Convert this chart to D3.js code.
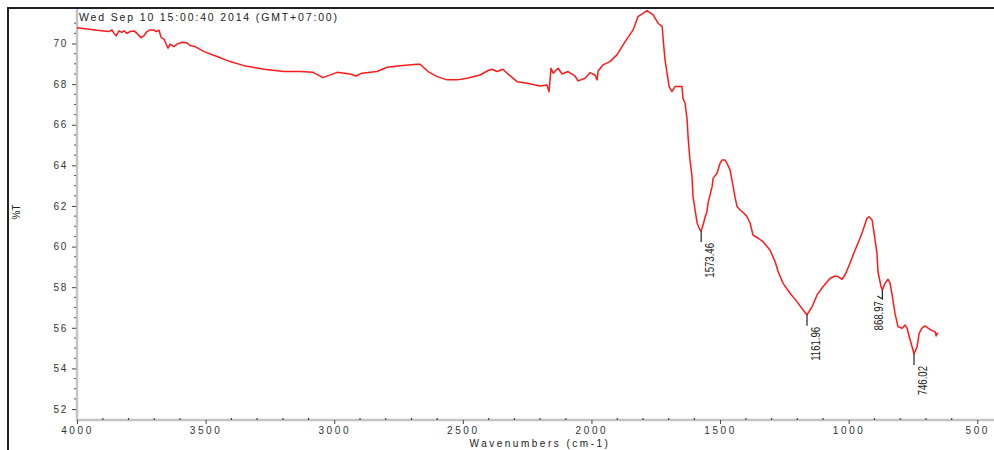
<!DOCTYPE html>
<html><head><meta charset="utf-8">
<script src="https://cdn.jsdelivr.net/npm/d3@7"></script>
<style>
html,body{margin:0;padding:0;background:#fff;}
svg{display:block;font-family:Arial,"Liberation Sans",sans-serif;}
</style></head>
<body><svg id="c" width="994" height="450"></svg>
<script>
// ---- data ----
const wavenumbers = [4000,3961,3922,3895,3876,3864,3856,3848,3837,3825,3817,3806,3794,3778,3767,3751,3740,3728,3716,3701,3693,3681,3673,3662,3646,3638,3623,3611,3592,3572,3561,3541,3506,3456,3405,3351,3273,3195,3133,3082,3044,2989,2939,2915,2892,2834,2795,2744,2678,2666,2635,2600,2561,2523,2484,2433,2402,2387,2367,2344,2324,2289,2250,2200,2173,2165,2157,2149,2130,2114,2091,2064,2052,2025,2005,1986,1978,1974,1955,1928,1901,1869,1838,1819,1784,1760,1741,1725,1722,1714,1706,1698,1687,1683,1675,1648,1644,1636,1628,1624,1617,1609,1605,1597,1589,1578,1574,1566,1558,1551,1547,1531,1527,1512,1500,1492,1481,1473,1461,1449,1442,1434,1422,1407,1395,1383,1372,1352,1333,1306,1286,1274,1255,1228,1201,1177,1162,1142,1123,1100,1072,1053,1041,1026,1014,995,975,956,944,929,921,909,901,890,886,874,869,859,847,839,831,820,808,792,781,773,761,750,746,734,726,715,703,691,676,664,660,656,652];
const transmittance = [70.78,70.72,70.65,70.62,70.59,70.67,70.50,70.38,70.62,70.55,70.63,70.50,70.59,70.62,70.50,70.29,70.38,70.59,70.67,70.67,70.59,70.65,70.29,70.22,69.77,69.97,69.85,69.97,70.06,70.03,69.90,69.85,69.60,69.36,69.11,68.91,68.73,68.62,68.62,68.58,68.32,68.58,68.50,68.40,68.54,68.62,68.83,68.91,68.98,68.98,68.62,68.37,68.21,68.21,68.29,68.45,68.67,68.73,68.62,68.73,68.49,68.12,68.04,67.91,67.96,67.63,68.78,68.54,68.78,68.50,68.62,68.40,68.16,68.29,68.57,68.45,68.21,68.65,68.95,69.11,69.44,70.09,70.67,71.33,71.62,71.41,71.00,70.83,70.34,69.19,68.54,67.88,67.63,67.72,67.88,67.88,67.30,67.06,66.24,65.33,64.27,63.44,62.46,61.80,61.15,60.82,60.77,61.06,61.47,61.72,62.13,62.95,63.36,63.61,64.10,64.27,64.27,64.10,63.77,62.95,62.46,61.97,61.80,61.64,61.47,61.15,60.57,60.41,60.24,59.83,59.26,58.76,58.19,57.70,57.29,56.88,56.64,57.04,57.62,58.02,58.44,58.55,58.52,58.39,58.60,59.18,59.83,60.41,60.82,61.39,61.47,61.31,60.65,59.67,58.76,58.02,57.86,58.19,58.39,58.19,57.62,56.71,56.05,55.98,56.14,55.98,55.40,54.91,54.71,55.07,55.73,55.98,56.09,55.98,55.86,55.81,55.60,55.73,55.70];
const peakWavenumbers = [1573.46, 1161.96, 868.97, 746.02];
const peakValues = [60.77, 56.64, 57.86, 54.71];
const peakLabels = ["1573.46", "1161.96", "868.97", "746.02"];
const xTicks = [4000,3500,3000,2500,2000,1500,1000,500];
const yTicks = [52,54,56,58,60,62,64,66,68,70];
const titleText = "Wed Sep 10 15:00:40 2014 (GMT+07:00)";
const xLabel = "Wavenumbers (cm-1)";
const yLabel = "%T";

// ---- chart ----
const svg = d3.select("#c");
const x = d3.scaleLinear().domain([4000, 435]).range([77, 994]);
const y = d3.scaleLinear().domain([51.46, 71.7]).range([420, 9]);

// outer frame
svg.append("line").attr("x1",8).attr("x2",8).attr("y1",7).attr("y2",450).attr("stroke","#222").attr("stroke-width",2);
svg.append("line").attr("x1",7).attr("x2",994).attr("y1",8).attr("y2",8).attr("stroke","#222").attr("stroke-width",2);

// axis lines
svg.append("line").attr("x1",77).attr("x2",77).attr("y1",9).attr("y2",421).attr("stroke","#c4c4c4").attr("stroke-width",2.5);
svg.append("line").attr("x1",76).attr("x2",994).attr("y1",420).attr("y2",420).attr("stroke","#c4c4c4").attr("stroke-width",2.5);

// y axis ticks
const yMinor = d3.range(52, 71.01, 0.5).filter(v => !yTicks.includes(v));
svg.append("g").selectAll("line").data(yMinor).join("line")
  .attr("x1",74).attr("x2",76).attr("y1",d=>y(d)).attr("y2",d=>y(d))
  .attr("stroke","#555").attr("stroke-width",1);
const yAxis = d3.axisLeft(y).tickValues(yTicks).tickSize(4).tickPadding(5).tickFormat(d3.format("d"));
const yg = svg.append("g").attr("transform","translate(76,0)").call(yAxis);
yg.select(".domain").remove();
yg.selectAll(".tick line").attr("stroke","#444");
yg.selectAll(".tick text").attr("font-family","Arial, 'Liberation Sans', sans-serif")
  .attr("font-size",10).attr("fill","#333").style("letter-spacing","1.8px").attr("dx","1.2px");

// x axis ticks
const xMinor = d3.range(4000, 430, -100).filter(v => !xTicks.includes(v));
svg.append("g").selectAll("rect").data(xMinor).join("rect")
  .attr("x",d=>x(d)-0.5).attr("y",418).attr("width",1.2).attr("height",2)
  .attr("fill","#444");
const xAxis = d3.axisBottom(x).tickValues(xTicks).tickSize(4).tickPadding(3).tickFormat(d3.format("d"));
const xg = svg.append("g").attr("transform","translate(0,420)").call(xAxis);
xg.select(".domain").remove();
xg.selectAll(".tick line").attr("stroke","#444");
xg.selectAll(".tick text").attr("font-family","Arial, 'Liberation Sans', sans-serif")
  .attr("font-size",10).attr("fill","#333").style("letter-spacing","2.6px").attr("dx","0px");

// spectrum
const pts = wavenumbers.map((w,i)=>[w, transmittance[i]]);
svg.append("path").datum(pts)
  .attr("fill","none").attr("stroke","#ff1a1a").attr("stroke-width",1.5).attr("stroke-linejoin","round")
  .attr("d", d3.line().x(d=>x(d[0])).y(d=>y(d[1])));

// peak labels
peakWavenumbers.forEach((w,i)=>{
  const px = x(w), py = y(peakValues[i]);
  const g = svg.append("g");
  if (i === 2) {
    g.append("path").attr("d",`M${px},${py}V${py+9}L${px-5},${py+6}`)
      .attr("fill","none").attr("stroke","#222").attr("stroke-width",1.2);
    g.append("text").attr("transform",`translate(${px+1},${py+11}) rotate(-90) scale(0.8,1)`)
      .attr("text-anchor","end").attr("font-size",12).attr("fill","#222").text(peakLabels[i]);
  } else {
    g.append("line").attr("x1",px).attr("x2",px).attr("y1",py).attr("y2",py+11)
      .attr("stroke","#222").attr("stroke-width",1.2);
    g.append("text").attr("transform",`translate(${px+13},${py+12}) rotate(-90) scale(0.8,1)`)
      .attr("text-anchor","end").attr("font-size",12).attr("fill","#222").text(peakLabels[i]);
  }
});

// texts
svg.append("text").attr("x",79).attr("y",21).attr("font-size",10.5).attr("fill","#222")
  .style("letter-spacing","1.85px").text(titleText);
svg.append("text").attr("x",540).attr("y",447).attr("text-anchor","middle").attr("font-size",10)
  .attr("fill","#222").style("letter-spacing","2.5px").text(xLabel);
svg.append("text").attr("transform","translate(20,212) rotate(-90)").attr("text-anchor","middle")
  .attr("font-size",10).attr("fill","#222").text(yLabel);
</script></body></html>
